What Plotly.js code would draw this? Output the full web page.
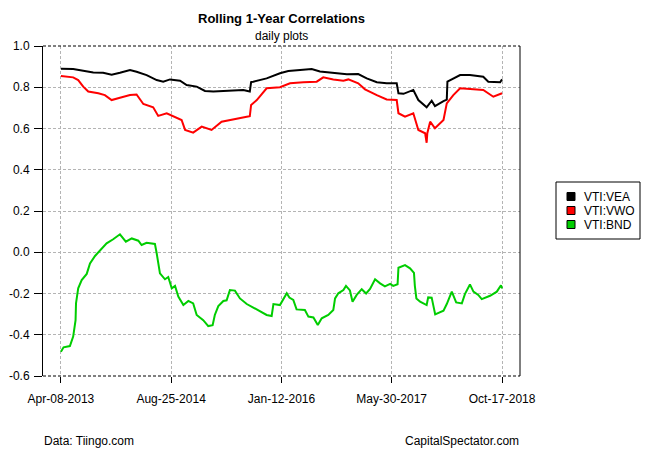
<!DOCTYPE html>
<html><head><meta charset="utf-8">
<script src="https://cdn.plot.ly/plotly-3.0.1.min.js"></script>
<style>html,body{margin:0;padding:0;background:#fff;} #chart{width:650px;height:450px;}</style>
</head><body><div id="chart"></div>
<script>
const chartTitle = 'Rolling 1-Year Correlations';
const chartSubtitle = 'daily plots';
const sourceNote = 'Data: Tiingo.com';
const brandNote = 'CapitalSpectator.com';
const seriesNames = ['VTI:VEA', 'VTI:VWO', 'VTI:BND'];
const seriesColors = ['#000000', '#ff0000', '#00cd00'];
const tickDates = ['2013-04-08', '2014-08-25', '2016-01-12', '2017-05-30', '2018-10-17'];
const tickLabels = ['Apr-08-2013', 'Aug-25-2014', 'Jan-12-2016', 'May-30-2017', 'Oct-17-2018'];
const yTicks = [-0.6, -0.4, -0.2, 0, 0.2, 0.4, 0.6, 0.8, 1.0];
const yTickLabels = ['-0.6', '-0.4', '-0.2', '0.0', '0.2', '0.4', '0.6', '0.8', '1.0'];

const veaDates = ['2013-04-08','2013-06-03','2013-07-19','2013-09-03','2013-10-18','2013-11-26','2014-01-03','2014-02-18','2014-03-20','2014-05-05','2014-06-20','2014-07-20','2014-08-20','2014-10-05','2014-11-04','2014-12-20','2015-01-27','2015-03-06','2015-04-21','2015-06-06','2015-07-21','2015-08-20','2015-08-26','2015-09-05','2015-11-05','2016-01-05','2016-02-12','2016-04-06','2016-05-29','2016-07-06','2016-09-05','2016-11-06','2016-12-28','2017-02-05','2017-03-23','2017-05-07','2017-06-22','2017-06-30','2017-07-23','2017-09-06','2017-09-29','2017-11-06','2017-11-29','2017-12-14','2018-01-22','2018-02-06','2018-02-09','2018-04-08','2018-05-23','2018-07-23','2018-08-15','2018-10-08','2018-10-17'];
const veaValues = [0.890,0.888,0.880,0.872,0.870,0.861,0.870,0.884,0.875,0.859,0.835,0.827,0.838,0.832,0.811,0.803,0.782,0.779,0.782,0.784,0.787,0.779,0.825,0.827,0.843,0.868,0.879,0.884,0.888,0.876,0.870,0.863,0.864,0.843,0.824,0.819,0.819,0.771,0.768,0.787,0.738,0.703,0.735,0.709,0.733,0.740,0.827,0.859,0.859,0.851,0.827,0.824,0.838];

const vwoDates = ['2013-04-08','2013-06-03','2013-06-26','2013-07-19','2013-08-11','2013-09-26','2013-10-26','2013-11-26','2014-01-03','2014-02-18','2014-03-20','2014-04-20','2014-06-04','2014-06-27','2014-08-05','2014-09-12','2014-10-12','2014-10-28','2014-12-04','2015-01-12','2015-02-26','2015-04-13','2015-06-06','2015-08-06','2015-08-20','2015-08-26','2015-09-21','2015-11-05','2016-01-05','2016-02-20','2016-04-21','2016-06-21','2016-07-21','2016-09-05','2016-10-21','2016-11-13','2016-12-28','2017-01-28','2017-03-23','2017-05-07','2017-06-22','2017-06-30','2017-07-30','2017-09-06','2017-09-29','2017-10-30','2017-11-06','2017-11-09','2017-11-22','2017-12-14','2018-01-22','2018-02-06','2018-03-08','2018-04-08','2018-06-08','2018-07-23','2018-09-07','2018-10-17'];
const vwoValues = [0.855,0.848,0.835,0.803,0.779,0.771,0.762,0.738,0.749,0.762,0.765,0.719,0.703,0.661,0.674,0.657,0.641,0.593,0.580,0.609,0.593,0.633,0.646,0.657,0.660,0.714,0.738,0.795,0.800,0.819,0.824,0.827,0.848,0.838,0.832,0.838,0.819,0.790,0.762,0.741,0.738,0.674,0.657,0.674,0.593,0.577,0.531,0.577,0.633,0.601,0.641,0.722,0.762,0.795,0.790,0.787,0.754,0.771];

const bndDates = ['2013-04-08','2013-04-20','2013-05-19','2013-06-03','2013-06-14','2013-06-16','2013-06-26','2013-07-12','2013-08-04','2013-08-19','2013-09-11','2013-10-11','2013-11-03','2013-12-03','2014-01-03','2014-01-30','2014-02-26','2014-03-28','2014-04-12','2014-05-05','2014-06-12','2014-06-20','2014-07-05','2014-07-28','2014-08-12','2014-08-28','2014-09-12','2014-09-27','2014-10-20','2014-11-12','2014-12-04','2014-12-20','2015-01-19','2015-02-11','2015-03-03','2015-03-13','2015-03-29','2015-04-21','2015-05-06','2015-05-21','2015-06-13','2015-07-06','2015-08-06','2015-09-05','2015-10-06','2015-11-05','2015-11-28','2015-12-06','2016-01-05','2016-02-05','2016-02-17','2016-03-06','2016-03-21','2016-04-28','2016-05-14','2016-06-06','2016-06-26','2016-07-14','2016-08-13','2016-09-05','2016-09-13','2016-09-28','2016-10-21','2016-11-02','2016-11-20','2016-12-02','2016-12-21','2017-01-13','2017-02-02','2017-02-20','2017-03-15','2017-04-07','2017-04-29','2017-05-23','2017-06-06','2017-06-26','2017-06-30','2017-07-30','2017-08-22','2017-09-09','2017-09-13','2017-09-20','2017-10-07','2017-11-06','2017-11-13','2017-11-29','2017-12-09','2017-12-15','2018-01-22','2018-02-06','2018-03-01','2018-03-21','2018-04-16','2018-04-30','2018-05-23','2018-06-08','2018-06-30','2018-07-16','2018-08-23','2018-09-23','2018-10-12','2018-10-17'];
const bndValues = [-0.482,-0.461,-0.455,-0.409,-0.329,-0.248,-0.175,-0.135,-0.105,-0.054,-0.018,0.019,0.043,0.063,0.087,0.051,0.067,0.056,0.035,0.046,0.040,-0.005,-0.102,-0.131,-0.120,-0.175,-0.163,-0.215,-0.256,-0.236,-0.248,-0.304,-0.329,-0.358,-0.354,-0.304,-0.261,-0.236,-0.233,-0.183,-0.186,-0.224,-0.251,-0.268,-0.285,-0.304,-0.309,-0.251,-0.256,-0.199,-0.220,-0.231,-0.277,-0.280,-0.312,-0.316,-0.353,-0.320,-0.304,-0.280,-0.224,-0.199,-0.183,-0.163,-0.185,-0.240,-0.207,-0.179,-0.200,-0.178,-0.131,-0.151,-0.165,-0.153,-0.163,-0.155,-0.075,-0.062,-0.078,-0.100,-0.163,-0.224,-0.240,-0.256,-0.219,-0.220,-0.271,-0.301,-0.283,-0.251,-0.191,-0.243,-0.248,-0.203,-0.156,-0.191,-0.207,-0.227,-0.211,-0.191,-0.160,-0.175];

const allDates = [veaDates, vwoDates, bndDates];
const allValues = [veaValues, vwoValues, bndValues];

const FONT = 'Liberation Sans, Arial, Helvetica, sans-serif';
// plot area in pixels
const L = 43, R = 520, T = 46, B = 376;
const px2x = p => (p - L) / (R - L);
const px2y = p => (B - p) / (B - T);

const traces = seriesNames.map((name, i) => ({
  type: 'scatter', mode: 'lines', name: name,
  x: allDates[i], y: allValues[i],
  line: {color: seriesColors[i], width: 2},
  showlegend: false, hoverinfo: 'skip'
}));

const shapes = [
  {type: 'line', xref: 'paper', yref: 'paper', x0: 0, x1: 1, y0: 1, y1: 1, line: {color: '#000', width: 1, dash: '3px,2px'}},
  {type: 'line', xref: 'paper', yref: 'paper', x0: 0, x1: 1, y0: 0, y1: 0, line: {color: '#000', width: 1, dash: '3px,2px'}},
  {type: 'line', xref: 'paper', yref: 'paper', x0: 1, x1: 1, y0: 0, y1: 1, line: {color: '#000', width: 1}},
  {type: 'rect', xref: 'paper', yref: 'paper', x0: px2x(556), x1: px2x(640), y0: px2y(239), y1: px2y(182), line: {color: '#000', width: 1}, fillcolor: '#fff'}
];
const annotations = [
  {text: '<b>' + chartTitle + '</b>', xref: 'paper', yref: 'paper', x: 0.5, y: px2y(18.5), xanchor: 'center', yanchor: 'middle', showarrow: false, font: {family: FONT, size: 13, color: '#000'}},
  {text: chartSubtitle, xref: 'paper', yref: 'paper', x: 0.5, y: px2y(36), xanchor: 'center', yanchor: 'middle', showarrow: false, font: {family: FONT, size: 12, color: '#000'}},
  {text: sourceNote, xref: 'paper', yref: 'paper', x: px2x(42), y: px2y(441), xanchor: 'left', yanchor: 'middle', showarrow: false, font: {family: FONT, size: 12, color: '#000'}},
  {text: brandNote, xref: 'paper', yref: 'paper', x: px2x(521), y: px2y(441), xanchor: 'right', yanchor: 'middle', showarrow: false, font: {family: FONT, size: 12, color: '#000'}}
];
seriesNames.forEach((name, i) => {
  const cy = 196.5 + 14 * i;
  shapes.push({type: 'rect', xref: 'paper', yref: 'paper', x0: px2x(567), x1: px2x(575), y0: px2y(cy + 4), y1: px2y(cy - 4), line: {color: '#000', width: 1}, fillcolor: seriesColors[i]});
  annotations.push({text: name, xref: 'paper', yref: 'paper', x: px2x(582), y: px2y(cy), xanchor: 'left', yanchor: 'middle', showarrow: false, font: {family: FONT, size: 12, color: '#000'}});
});

const layout = {
  width: 650, height: 450,
  margin: {l: L, r: 650 - R, t: T, b: 450 - B, pad: 0},
  paper_bgcolor: '#fff', plot_bgcolor: '#fff',
  font: {family: FONT, size: 12, color: '#000'},
  showlegend: false,
  xaxis: {
    type: 'date', range: ['2013-01-16', '2019-01-07'],
    tickvals: tickDates, ticktext: tickLabels,
    ticks: 'outside', ticklen: 6, tickcolor: '#000', tickwidth: 1,
    showgrid: true, gridcolor: '#b4b4b4', gridwidth: 1, griddash: '3px,2px',
    zeroline: false, showline: false, ticklabelstandoff: 6,
    tickfont: {family: FONT, size: 12, color: '#000'}, fixedrange: true
  },
  yaxis: {
    range: [-0.6, 1.0],
    tickvals: yTicks, ticktext: yTickLabels,
    ticks: 'outside', ticklen: 8, tickcolor: '#000', tickwidth: 1,
    showgrid: true, gridcolor: '#b4b4b4', gridwidth: 1, griddash: '3px,2px',
    zeroline: false, showline: true, linecolor: '#000', linewidth: 1,
    ticklabelstandoff: 2,
    tickfont: {family: FONT, size: 12, color: '#000'}, fixedrange: true
  },
  shapes: shapes,
  annotations: annotations
};

Plotly.newPlot('chart', traces, layout, {displayModeBar: false, staticPlot: true});
</script>
</body></html>
